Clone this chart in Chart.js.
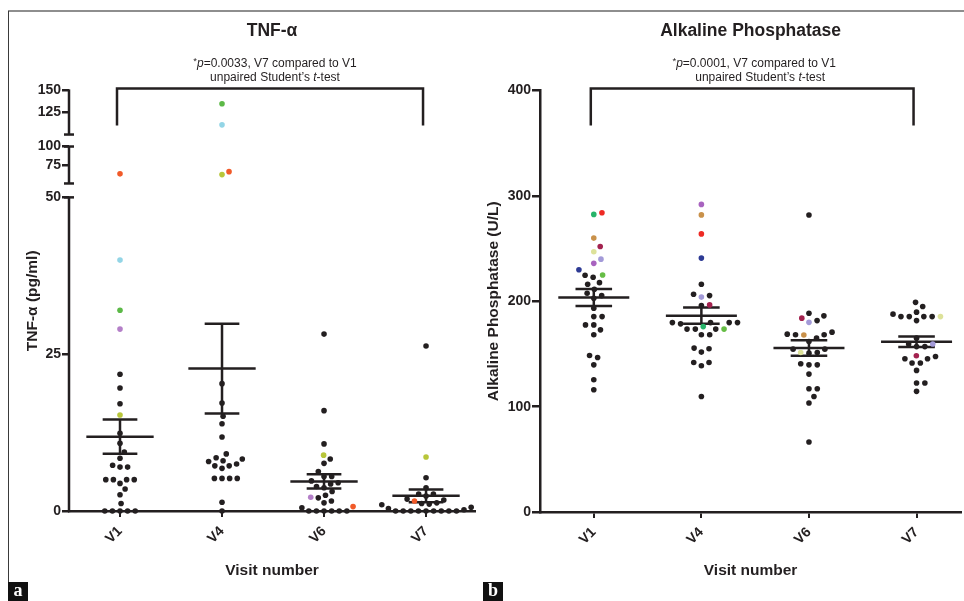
<!DOCTYPE html>
<html>
<head>
<meta charset="utf-8">
<script src="https://cdn.jsdelivr.net/npm/chart.js@4.4.1/dist/chart.umd.min.js"></script>
<style>
  html, body { margin:0; padding:0; background:#ffffff; }
  body { position:relative; width:964px; height:601px; overflow:hidden; }
  canvas { position:absolute; top:0; }
  #tnf { left:0; }
  #alp { left:480px; }
  .frame-top { position:absolute; left:8px; top:10px; width:956px; height:2px; background:#8e8e8e; }
  .frame-left { position:absolute; left:8px; top:11px; width:1px; height:572px; background:#3a3a3a; }
  .tag { position:absolute; top:582px; width:20px; height:19px; background:#111; color:#fff;
         font:bold 18px "Liberation Serif", "DejaVu Serif", serif; text-align:center; line-height:17px; }
</style>
</head>
<body>
<div class="frame-top"></div>
<div class="frame-left"></div>
<canvas id="tnf" width="480" height="601"></canvas>
<canvas id="alp" width="484" height="601"></canvas>
<div class="tag" style="left:8px">a</div>
<div class="tag" style="left:483px">b</div>
<script>
// ---------------- DATA ----------------
const visits = ['V1', 'V4', 'V6', 'V7'];

// TNF-α (pg/ml), subjects not highlighted, per visit
const tnfV1 = [21.8, 19.6, 17.1, 12.4, 10.8, 9.4, 8.4, 7.3, 7.0, 7.0, 5.0, 5.0, 5.0, 5.0, 4.4, 3.5, 2.6, 1.2, 0, 0, 0, 0, 0];
const tnfV4 = [20.3, 17.2, 15.1, 13.9, 11.8, 9.1, 8.5, 8.3, 8.0, 7.9, 7.5, 7.2, 7.2, 6.8, 5.2, 5.2, 5.2, 5.2, 1.4, 0];
const tnfV6 = [28.2, 16.0, 10.7, 8.3, 7.6, 6.3, 5.5, 5.5, 4.8, 4.5, 4.3, 3.9, 3.7, 3.1, 2.5, 2.1, 1.6, 1.3, 0.5, 0, 0, 0, 0, 0, 0];
const tnfV7 = [26.3, 5.3, 3.7, 2.7, 2.7, 2.4, 1.9, 1.75, 1.3, 1.2, 1.1, 1.0, 0.6, 0.4, 0.2, 0, 0, 0, 0, 0, 0, 0, 0, 0];
// highlighted subjects: values at V1, V4, V6, V7 (null = not highlighted)
const tnfSubjOrange = [63, 66, 0.7, 1.6];
const tnfSubjBlue   = [40, 111, null, null];
const tnfSubjGreen  = [32, 135, null, null];
const tnfSubjPurple = [29, null, 2.2, null];
const tnfSubjOlive  = [15.3, 62, 8.9, 8.6];
const tnfTicksLow  = [0, 25, 50];
const tnfTicksMid  = [75, 100];
const tnfTicksHigh = [125, 150];
const tnfBreaks = [[0, 50], [50, 100], [100, 150]];
const tnfPValue = '0.0033';

// Alkaline phosphatase (U/L), subjects not highlighted, per visit
const alpV1 = [224.7, 222.8, 217.7, 216.2, 211.5, 207.6, 205.4, 202.9, 193.4, 185.5, 185.5, 177.6, 177.6, 172.9, 168.2, 148.6, 146.7, 139.7, 125.5, 116];
const alpV4 = [216.2, 206.7, 205.4, 195.9, 179.8, 179.8, 179.8, 179.8, 178.6, 173.6, 173.6, 173.6, 168.2, 168.2, 155.6, 154.9, 151.8, 141.9, 141.9, 138.8, 109.7];
const alpV6 = [281.9, 188.7, 186.2, 181.7, 170.7, 168.8, 168.2, 168.2, 165, 161.8, 154.6, 154.6, 151.4, 150.8, 140.7, 139.7, 139.7, 130.9, 117, 117, 109.7, 103.4, 66.5];
const alpV7 = [199, 195, 189.7, 187.8, 185.5, 185.5, 185.5, 185.5, 181.7, 165, 159.4, 157, 157, 147.6, 145.4, 145.4, 141.4, 141.4, 134.4, 122.4, 122.4, 114.5];
const alpSubjTeal     = [282.5, 176, null, null];
const alpSubjRed      = [284, 264, null, null];
const alpSubjTan      = [260, 282, 168, null];
const alpSubjCrimson  = [252, 196.6, 184, 148.3];
const alpSubjYellow   = [247, null, 151.4, 185.5];
const alpSubjLavender = [240, 204, 180, 159.4];
const alpSubjPurple   = [236, 292, null, null];
const alpSubjNavy     = [230, 241, null, null];
const alpSubjGreen    = [225, 173.6, null, null];
const alpTicks = [0, 100, 200, 300, 400];
const alpPValue = '0.0001';

// ---------------- STYLE ----------------
const INK = '#231f20';
const FONT = '"Liberation Sans", Arial, Helvetica, sans-serif';
const tickFont = { family: FONT, size: 14, weight: 'bold' };
const axisTitleFont = { family: FONT, size: 15.5, weight: 'bold' };
const titleFont = { family: FONT, size: 17.5, weight: 'bold' };

const tnfTracked = [
  { values: tnfSubjOrange, color: '#f15a29' },
  { values: tnfSubjBlue,   color: '#93d5e6' },
  { values: tnfSubjGreen,  color: '#5cb947' },
  { values: tnfSubjPurple, color: '#b47fc8' },
  { values: tnfSubjOlive,  color: '#b8c63a' }
];
const alpTracked = [
  { values: alpSubjTeal,     color: '#27b46a' },
  { values: alpSubjRed,      color: '#ee2a24' },
  { values: alpSubjTan,      color: '#c9914a' },
  { values: alpSubjCrimson,  color: '#a3224f' },
  { values: alpSubjYellow,   color: '#dde29a' },
  { values: alpSubjLavender, color: '#a39ad8' },
  { values: alpSubjPurple,   color: '#a863bf' },
  { values: alpSubjNavy,     color: '#2d3a94' },
  { values: alpSubjGreen,    color: '#66bd45' }
];

// ---------------- HELPERS ----------------
function mean(a) { return a.reduce((s, v) => s + v, 0) / a.length; }
function sem(a) {
  const m = mean(a);
  const sd = Math.sqrt(a.reduce((s, v) => s + (v - m) * (v - m), 0) / (a.length - 1));
  return sd / Math.sqrt(a.length);
}
function collect(groups, tracked) {
  return groups.map((g, i) => {
    const pts = g.map(v => ({ v, color: INK }));
    tracked.forEach(t => { if (t.values[i] !== null) pts.push({ v: t.values[i], color: t.color }); });
    return pts;
  });
}
function buildScatter(perVisit, axisIds, axisFor) {
  const ds = {};
  axisIds.forEach(id => {
    ds[id] = { type: 'scatter', yAxisID: id, data: [], pointBackgroundColor: [], pointBorderColor: [],
               pointBorderWidth: 0, pointRadius: 2.8, pointHoverRadius: 2.8, clip: false, order: 0 };
  });
  perVisit.forEach((pts, i) => pts.forEach(p => {
    const d = ds[axisFor(p.v)];
    d.data.push({ x: i + 1, y: p.v, visit: i });
    d.pointBackgroundColor.push(p.color);
    d.pointBorderColor.push(p.color);
  }));
  return axisIds.map(id => ds[id]).filter(d => d.data.length);
}
function summaryDataset(perVisit, axisId) {
  const pts = [];
  perVisit.forEach((pv, i) => {
    const vals = pv.map(p => p.v);
    const c = i + 1, m = mean(vals), e = sem(vals);
    pts.push({ x: c - 0.33, y: m }, { x: c + 0.33, y: m }, { x: c, y: null },
             { x: c - 0.17, y: m + e }, { x: c + 0.17, y: m + e }, { x: c, y: null },
             { x: c - 0.17, y: m - e }, { x: c + 0.17, y: m - e }, { x: c, y: null },
             { x: c, y: m - e }, { x: c, y: m + e }, { x: c, y: null });
  });
  return { type: 'line', yAxisID: axisId, data: pts, showLine: true, spanGaps: false,
           borderColor: INK, borderWidth: 2.5, pointRadius: 0, pointHoverRadius: 0,
           clip: false, order: 1, borderCapStyle: 'butt' };
}
function swarm(items, D) {
  const order = items.slice().sort((a, b) => b.py - a.py);
  const placed = [];
  for (const it of order) {
    const near = placed.filter(p => Math.abs(p.py - it.py) < D);
    const cands = [0];
    near.forEach(p => {
      const w = Math.sqrt(D * D - (p.py - it.py) * (p.py - it.py));
      cands.push(p.dx + w + 0.01, p.dx - w - 0.01);
    });
    cands.sort((a, b) => (Math.abs(a) - Math.abs(b)) || (b - a));
    it.dx = 0;
    for (const c of cands) {
      if (near.every(p => (p.dx - c) * (p.dx - c) + (p.py - it.py) * (p.py - it.py) >= D * D - 0.05)) { it.dx = c; break; }
    }
    placed.push(it);
  }
}
function applySwarm(chart, D) {
  const xs = chart.scales.x;
  const ppu = Math.abs(xs.getPixelForValue(2) - xs.getPixelForValue(1));
  const groups = {};
  chart.data.datasets.forEach(ds => {
    if (ds.type !== 'scatter') return;
    const ys = chart.scales[ds.yAxisID];
    ds.data.forEach(pt => { (groups[pt.visit] = groups[pt.visit] || []).push({ pt, py: ys.getPixelForValue(pt.y) }); });
  });
  Object.keys(groups).forEach(k => {
    const items = groups[k];
    swarm(items, D);
    items.forEach(it => { it.pt.x = Number(k) + 1 + it.dx / ppu; });
  });
  chart.update('none');
}
function drawRich(ctx, parts, cx, cy, size) {
  const fonts = parts.map(p => (p.italic ? 'italic ' : '') + (p.small ? size * 0.8 : size) + 'px ' + FONT);
  let total = 0;
  const widths = parts.map((p, i) => { ctx.font = fonts[i]; const w = ctx.measureText(p.text).width; total += w; return w; });
  let x = cx - total / 2;
  parts.forEach((p, i) => { ctx.font = fonts[i]; ctx.fillText(p.text, x, cy + (p.small ? -2.5 : 0)); x += widths[i]; });
}

const panelDecor = {
  id: 'panelDecor',
  afterDraw(chart, args, o) {
    const ctx = chart.ctx, area = chart.chartArea, xs = chart.scales.x;
    ctx.save();
    ctx.strokeStyle = INK; ctx.fillStyle = INK; ctx.lineWidth = 2.5; ctx.lineCap = 'butt'; ctx.lineJoin = 'miter';
    // comparison bracket
    const xa = xs.getPixelForValue(o.from) - 3, xb = xs.getPixelForValue(o.to) - 3;
    const yt = area.top - 2, yb = area.top + 35;
    ctx.beginPath(); ctx.moveTo(xa, yb); ctx.lineTo(xa, yt); ctx.lineTo(xb, yt); ctx.lineTo(xb, yb); ctx.stroke();
    ctx.textBaseline = 'middle'; ctx.textAlign = 'left';
    const cx = (xa + xb) / 2;
    drawRich(ctx, o.line1, cx + o.dx1, area.top - 26.5, 12);
    drawRich(ctx, o.line2, cx + o.dx2, area.top - 12.5, 12);
    // broken y axis
    if (o.segments) {
      const x = area.left;
      o.segments.forEach(s => {
        const sc = chart.scales[s.axis];
        const y0 = sc.getPixelForValue(s.from), y1 = sc.getPixelForValue(s.to);
        ctx.beginPath(); ctx.moveTo(x, y0 + (s.capFrom ? 0 : 1.25)); ctx.lineTo(x, y1 - (s.capTo ? 0 : 1.25)); ctx.stroke();
        if (s.capFrom) { ctx.beginPath(); ctx.moveTo(x - 5, y0); ctx.lineTo(x + 5, y0); ctx.stroke(); }
        if (s.capTo) { ctx.beginPath(); ctx.moveTo(x - 5, y1); ctx.lineTo(x + 5, y1); ctx.stroke(); }
      });
    }
    if (o.yTitle) {
      ctx.save();
      ctx.translate(o.yTitleX, (area.top + area.bottom) / 2);
      ctx.rotate(-Math.PI / 2);
      ctx.font = 'bold ' + axisTitleFont.size + 'px ' + FONT;
      ctx.textAlign = 'center'; ctx.textBaseline = 'middle';
      ctx.fillText(o.yTitle, 0, 0);
      ctx.restore();
    }
    ctx.restore();
  }
};

function xAxis(max, height) {
  return {
    type: 'linear', position: 'bottom', min: 0.5, max: max, bounds: 'data',
    border: { display: true, color: INK, width: 2.5 },
    grid: { drawOnChartArea: false, drawTicks: true, tickLength: 6, color: INK, lineWidth: 2 },
    ticks: { font: tickFont, color: INK, minRotation: 45, maxRotation: 45, autoSkip: false, padding: 6,
             callback: v => visits[v - 1] },
    afterBuildTicks: s => { s.ticks = visits.map((_, i) => ({ value: i + 1 })); },
    title: { display: true, text: 'Visit number', font: axisTitleFont, color: INK, padding: { top: 0, bottom: 21 } },
    afterFit: s => { s.height = height; s.paddingLeft = 0; s.paddingRight = 0; }
  };
}
function chartTitle(text) {
  return { display: true, text, fullSize: false, font: titleFont, color: INK, padding: { top: 21, bottom: 48.6 } };
}
function lineParts(p) {
  return [{ text: '*', small: true }, { text: 'p', italic: true }, { text: '=' + p + ', V7 compared to V1' }];
}
const line2Parts = [{ text: 'unpaired Student\u2019s ' }, { text: 't', italic: true }, { text: '-test' }];

// ---------------- TNF-α chart ----------------
const tnfPerVisit = collect([tnfV1, tnfV4, tnfV6, tnfV7], tnfTracked);
const tnfAxisFor = v => v > tnfBreaks[1][1] ? 'yHigh' : (v > tnfBreaks[0][1] ? 'yMid' : 'yLow');
const tnfDatasets = buildScatter(tnfPerVisit, ['yLow', 'yMid', 'yHigh'], tnfAxisFor);
tnfDatasets.push(summaryDataset(tnfPerVisit, 'yLow'));

function tnfY(weight, stackWeight, min, max, ticks) {
  return {
    type: 'linear', position: 'left', stack: 'tnf', weight, stackWeight, min, max, bounds: 'data',
    border: { display: false },
    grid: { drawOnChartArea: false, drawTicks: true, tickLength: 7, color: INK, lineWidth: 2.5 },
    ticks: { font: tickFont, color: INK, padding: 1, autoSkip: false },
    afterBuildTicks: s => { s.ticks = ticks.map(v => ({ value: v })); },
    afterFit: s => { s.width = 69; s.paddingTop = 0; s.paddingBottom = 0; }
  };
}

const tnfChart = new Chart(document.getElementById('tnf'), {
  type: 'scatter',
  data: { datasets: tnfDatasets },
  plugins: [panelDecor],
  options: {
    responsive: false, animation: false, events: [],
    layout: { padding: { left: 0, right: 5, top: 0, bottom: 0 } },
    scales: {
      x: xAxis(4.48, 90),
      yLow: tnfY(1, 321, 0, 51.1, tnfTicksLow),
      yMid: tnfY(2, 50.5, 40.54, 108.78, tnfTicksMid),
      yHigh: tnfY(3, 49.5, 93.75, 150, tnfTicksHigh)
    },
    plugins: {
      legend: { display: false }, tooltip: { enabled: false },
      title: chartTitle('TNF-\u03b1'),
      panelDecor: {
        from: 1, to: 4, line1: lineParts(tnfPValue), line2: line2Parts, dx1: 5, dx2: 5,
        segments: [
          { axis: 'yLow', from: tnfBreaks[0][0], to: tnfBreaks[0][1], capFrom: false, capTo: true },
          { axis: 'yMid', from: tnfBreaks[1][0], to: tnfBreaks[1][1], capFrom: true, capTo: true },
          { axis: 'yHigh', from: tnfBreaks[2][0], to: tnfBreaks[2][1], capFrom: true, capTo: false }
        ],
        yTitle: 'TNF-\u03b1 (pg/ml)', yTitleX: 33
      }
    }
  }
});
applySwarm(tnfChart, 7.6);

// ---------------- Alkaline phosphatase chart ----------------
const alpPerVisit = collect([alpV1, alpV4, alpV6, alpV7], alpTracked);
const alpDatasets = buildScatter(alpPerVisit, ['y'], () => 'y');
alpDatasets.push(summaryDataset(alpPerVisit, 'y'));

const alpChart = new Chart(document.getElementById('alp'), {
  type: 'scatter',
  data: { datasets: alpDatasets },
  plugins: [panelDecor],
  options: {
    responsive: false, animation: false, events: [],
    layout: { padding: 0 },
    scales: {
      x: xAxis(4.415, 89),
      y: {
        type: 'linear', position: 'left', min: 0, max: 400, bounds: 'data',
        border: { display: true, color: INK, width: 2.5 },
        grid: { drawOnChartArea: false, drawTicks: true, tickLength: 8, color: INK, lineWidth: 2.5 },
        ticks: { font: tickFont, color: INK, padding: 1, autoSkip: false },
        afterBuildTicks: s => { s.ticks = alpTicks.map(v => ({ value: v })); },
        title: { display: true, text: 'Alkaline Phosphatase (U/L)', font: axisTitleFont, color: INK, padding: { top: 4, bottom: 0 } },
        afterFit: s => { s.width = 60; s.paddingTop = 0; s.paddingBottom = 0; }
      }
    },
    plugins: {
      legend: { display: false }, tooltip: { enabled: false },
      title: chartTitle('Alkaline Phosphatase'),
      panelDecor: { from: 1, to: 4, line1: lineParts(alpPValue), line2: line2Parts, dx1: 2, dx2: 8 }
    }
  }
});
applySwarm(alpChart, 8.3);
</script>
</body>
</html>
